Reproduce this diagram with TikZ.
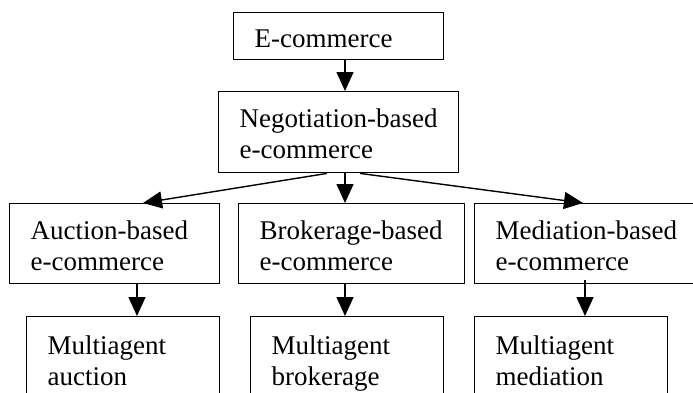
\documentclass[tikz,border=0pt]{standalone}
\usepackage{fontspec}
\setmainfont{Liberation Serif}
\usetikzlibrary{arrows.meta}
\newcommand\twol[2]{\rule{0pt}{29pt}#1\\#2\rule[-7pt]{0pt}{7pt}}
\newcommand\onel[1]{\rule{0pt}{29pt}#1\rule[-7pt]{0pt}{7pt}}
\tikzset{
  boxnode/.style={draw, line width=1.4pt, anchor=north west, align=left,
    inner xsep=21pt, inner ysep=0pt, font=\fontsize{27}{31}\selectfont},
  arr/.style={line width=1.4pt, -{Triangle[length=19pt,width=17pt]}}
}
\newcommand\bx[6]{% name, x1, y1, x2, y2, text
  \pgfmathsetmacro\bw{#4-#2}\pgfmathsetmacro\bh{#5-#3}\pgfmathsetmacro\tw{#4-#2-42}
  \node[boxnode, minimum width=\bw pt, minimum height=\bh pt, text width=\tw pt] (#1) at (#2pt,-#3pt) {#6};}
\begin{document}
\begin{tikzpicture}
\useasboundingbox (0,0) rectangle (693pt,-392pt);
\clip (0,0) rectangle (693pt,-392pt);
\fill[white] (0,0) rectangle (693pt,-392pt);
\bx{E}{233}{12}{443}{59}{\onel{E-commerce}}
\bx{N}{218}{91}{458}{172}{\twol{Negotiation-based}{e-commerce}}
\bx{A}{9}{203}{219}{283}{\twol{Auction-based}{e-commerce}}
\bx{B}{238}{203}{464}{283}{\twol{Brokerage-based}{e-commerce}}
\bx{M}{474}{203}{702}{283}{\twol{Mediation-based}{e-commerce}}
\bx{MA}{26}{316}{219}{400}{\twol{Multiagent}{auction}}
\bx{MB}{250}{316}{443}{400}{\twol{Multiagent}{brokerage}}
\bx{MM}{474}{316}{667}{400}{\twol{Multiagent}{mediation}}
\draw[arr] (E.south -| 345pt,0) -- (N.north -| 345pt,0);
\draw[arr] (N.south -| 327pt,0) -- (A.north -| 143pt,0);
\draw[arr] (N.south -| 345pt,0) -- (B.north -| 345pt,0);
\draw[arr] (N.south -| 360pt,0) -- (M.north -| 583pt,0);
\draw[arr] (A.south -| 137pt,0) -- (MA.north -| 137pt,0);
\draw[arr] (B.south -| 345pt,0) -- (MB.north -| 345pt,0);
\draw[arr] ([yshift=4pt]M.south -| 585pt,0) -- (MM.north -| 585pt,0);
\end{tikzpicture}
\end{document}
